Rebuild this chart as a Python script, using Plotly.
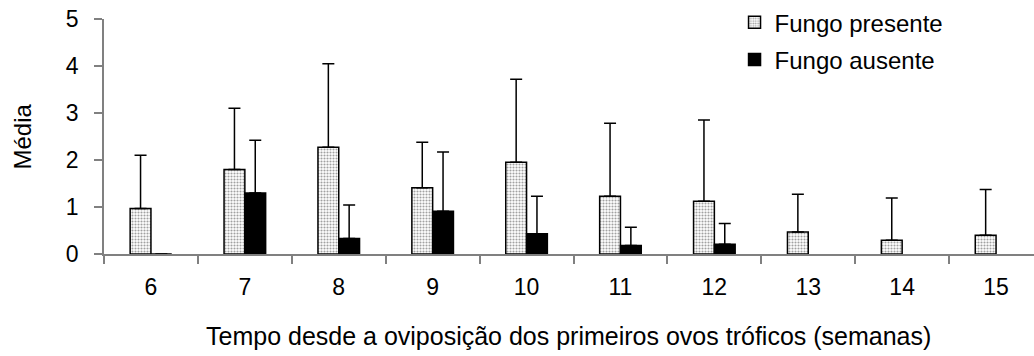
import plotly.graph_objects as go

semanas = ["6", "7", "8", "9", "10", "11", "12", "13", "14", "15"]
presente = [0.97, 1.80, 2.27, 1.41, 1.95, 1.23, 1.12, 0.47, 0.29, 0.40]
presente_sup = [2.10, 3.10, 4.05, 2.38, 3.72, 2.78, 2.85, 1.27, 1.19, 1.37]
ausente = [0.0, 1.30, 0.33, 0.91, 0.43, 0.18, 0.21, None, None, None]
ausente_sup = [None, 2.42, 1.04, 2.17, 1.23, 0.57, 0.65, None, None, None]

err_p = [s - v for s, v in zip(presente_sup, presente)]
err_a = [(s - v) if (s is not None and v is not None) else 0 for s, v in zip(ausente_sup, ausente)]

FONT = "Liberation Sans, Arial, sans-serif"
TICK_SIZE = 23
TEXT_SIZE = 24
XTITLE_SIZE = 25

fig = go.Figure()
fig.add_trace(go.Bar(
    x=semanas, y=presente, name="Fungo presente", legendgroup="p",
    marker=dict(color="white", line=dict(color="black", width=1.5),
                pattern=dict(shape=".", size=3, solidity=0.4, fgcolor="#444444", bgcolor="white")),
    error_y=dict(type="data", symmetric=False, array=err_p, arrayminus=[0]*len(err_p),
                 color="black", thickness=1.5, width=6),
))
fig.add_trace(go.Bar(
    x=semanas, y=ausente, name="Fungo ausente", legendgroup="a",
    marker=dict(color="black", line=dict(color="black", width=1.5)),
    error_y=dict(type="data", symmetric=False, array=err_a, arrayminus=[0]*len(err_a),
                 color="black", thickness=1.5, width=6),
))

fig.update_layout(
    width=1034, height=356,
    margin=dict(l=104, r=0, t=19, b=102),
    paper_bgcolor="white", plot_bgcolor="white",
    barmode="group", bargap=0.557, bargroupgap=0,
    font=dict(family=FONT, size=TICK_SIZE, color="black"),
    showlegend=True,
    legend=dict(x=0.678, y=1.08, xanchor="left", yanchor="top",
                traceorder="grouped", tracegroupgap=3,
                font=dict(family=FONT, size=TEXT_SIZE), bgcolor="rgba(0,0,0,0)"),
    xaxis=dict(type="category", range=[-0.5, 9.404], showline=True, linecolor="#808080",
               linewidth=1.5, ticks="outside", tickson="boundaries", ticklen=8,
               tickcolor="#808080", tickwidth=1.5, showgrid=False, zeroline=False,
               tickfont=dict(size=TICK_SIZE), ticklabelstandoff=12),
    yaxis=dict(range=[0, 5], dtick=1, showline=True, linecolor="#808080", linewidth=1.5,
               ticks="outside", ticklen=8, tickcolor="#808080", tickwidth=1.5,
               showgrid=False, zeroline=False, tickfont=dict(size=TICK_SIZE),
               ticklabelstandoff=11),
    annotations=[
        dict(text="Tempo desde a oviposição dos primeiros ovos tróficos (semanas)",
             xref="paper", yref="paper", x=(568 - 104) / 930, y=(253.7 - 336) / 234.7,
             xanchor="center", yanchor="middle", showarrow=False,
             font=dict(family=FONT, size=XTITLE_SIZE)),
        dict(text="Média", textangle=-90,
             xref="paper", yref="paper", x=(22 - 104) / 930, y=0.5,
             xanchor="center", yanchor="middle", showarrow=False,
             font=dict(family=FONT, size=TEXT_SIZE)),
    ],
)

fig.write_html("out.html")
